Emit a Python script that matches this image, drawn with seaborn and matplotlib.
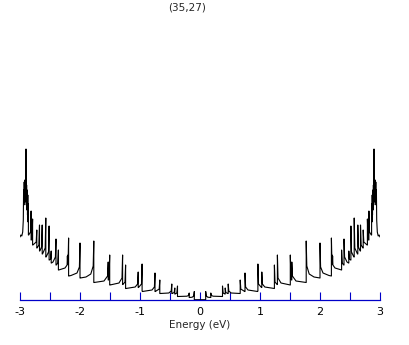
import matplotlib
matplotlib.use("Agg")
import matplotlib.pyplot as plt
import numpy as np
import pandas as pd
import seaborn as sns
from matplotlib.ticker import MultipleLocator

# ---- data (positive-energy half of the DOS; the curve is symmetric) ----
energy_pos = [
    0.0, 0.09,
    0.095, 0.095, 0.105, 0.13, 0.175,
    0.18, 0.18, 0.19, 0.22, 0.37,
    0.375, 0.375, 0.385, 0.415,
    0.42, 0.42, 0.43, 0.465,
    0.47, 0.47, 0.48, 0.52, 0.665,
    0.67, 0.67, 0.68, 0.745,
    0.75, 0.75, 0.76, 0.80, 0.96,
    0.965, 0.965, 0.975, 1.025,
    1.03, 1.03, 1.04, 1.08, 1.235,
    1.24, 1.24, 1.25, 1.285,
    1.29, 1.29, 1.30, 1.35, 1.50,
    1.505, 1.505, 1.515, 1.525,
    1.53, 1.53, 1.54, 1.60, 1.765,
    1.77, 1.77, 1.78, 1.82, 1.90, 1.995,
    2.00, 2.00, 2.01, 2.05, 2.15, 2.185,
    2.19, 2.19, 2.198, 2.20, 2.205, 2.21, 2.215, 2.25, 2.355,
    2.36, 2.36, 2.37, 2.395,
    2.40, 2.40, 2.41, 2.45, 2.475,
    2.48, 2.48, 2.49, 2.51,
    2.515, 2.515, 2.525, 2.565,
    2.57, 2.57, 2.58, 2.625,
    2.63, 2.63, 2.64, 2.67,
    2.675, 2.675, 2.685, 2.715,
    2.72, 2.72, 2.73, 2.785,
    2.79, 2.79, 2.80, 2.81,
    2.815, 2.815, 2.825, 2.855,
    2.86, 2.86, 2.865, 2.87, 2.875, 2.88, 2.885, 2.89, 2.895,
    2.90, 2.905, 2.91, 2.915, 2.92, 2.925, 2.93, 2.935, 2.94,
    2.945, 2.955, 2.97, 2.985, 3.0,
]
dos_pos = [
    0.3, 0.3,
    0.3, 8.5, 4.0, 2.8, 2.5,
    2.5, 7.0, 4.5, 3.8, 3.5,
    3.5, 14.0, 7.0, 6.0,
    6.0, 12.0, 7.5, 6.5,
    6.5, 16.0, 9.0, 7.0, 6.5,
    6.5, 20.0, 11.0, 8.5,
    8.5, 27.0, 13.0, 10.0, 8.5,
    9.0, 36.0, 16.0, 12.5,
    12.5, 28.0, 16.0, 13.0, 11.5,
    11.5, 35.0, 18.0, 15.5,
    15.5, 45.0, 22.0, 17.0, 15.0,
    15.0, 45.0, 24.0, 20.0,
    20.0, 38.0, 24.0, 19.0, 17.5,
    17.5, 59.0, 34.0, 26.0, 23.0, 22.0,
    22.0, 57.0, 33.0, 27.0, 24.5, 24.0,
    24.0, 62.0, 40.0, 45.0, 36.0, 44.0, 35.0, 32.0, 30.0,
    30.0, 50.0, 37.0, 35.0,
    35.0, 61.0, 43.0, 38.0, 37.0,
    37.0, 49.0, 41.0, 40.0,
    40.0, 74.0, 48.0, 43.0,
    43.0, 82.0, 52.0, 46.0,
    46.0, 75.0, 53.0, 49.0,
    49.0, 75.0, 55.0, 52.0,
    52.0, 70.0, 58.0, 55.0,
    55.0, 81.0, 62.0, 60.0,
    60.0, 89.0, 68.0, 65.0,
    65.0, 96.0, 78.0, 105.0, 85.0, 110.0, 90.0, 115.0, 95.0,
    151.0, 100.0, 118.0, 98.0, 120.0, 100.0, 118.0, 95.0, 110.0,
    80.0, 68.0, 64.0, 65.0, 63.0,
]
title_text = "(35,27)"
x_label = "Energy (eV)"
x_ticks = [-3, -2, -1, 0, 1, 2, 3]

# full curve (mirror of the positive half)
e_pos = np.array(energy_pos)
d_pos = np.array(dos_pos)
energy = np.concatenate([-e_pos[::-1], e_pos])
dos = np.concatenate([d_pos[::-1], d_pos])
df = pd.DataFrame({"energy": energy, "dos": dos})

sns.set_style("white")
plt.rcParams["font.family"] = ["DejaVu Sans"]
plt.rcParams["axes.unicode_minus"] = False

W, H = 409, 345
fig = plt.figure(figsize=(W / 100, H / 100), dpi=100)
ax = fig.add_axes([20 / W, 45 / H, 360 / W, 160 / H])

sns.lineplot(data=df, x="energy", y="dos", ax=ax, sort=False, estimator=None,
             color="black", linewidth=0.8)

blue = "#0000C8"
ax.set_xlim(-3, 3)
ax.set_ylim(0, 160)
for s in ["top", "left", "right"]:
    ax.spines[s].set_visible(False)
ax.spines["bottom"].set_color(blue)
ax.spines["bottom"].set_linewidth(0.9)
ax.set_yticks([])
ax.set_xticks(x_ticks)
ax.set_xticklabels([str(t) for t in x_ticks])
ax.xaxis.set_minor_locator(MultipleLocator(0.5))
ax.tick_params(axis="x", which="both", bottom=True, top=False, direction="in",
               length=6, width=0.8, color=blue, labelsize=8,
               labelcolor="black", pad=5)
ax.tick_params(axis="x", which="minor", labelbottom=False)
ax.set_xlabel(x_label, fontsize=7.5, labelpad=2)
ax.set_ylabel("")

fig.text(187 / W, 1 - 7 / H, title_text, ha="center", va="center", fontsize=7.5)

fig.savefig("out.png", dpi=100)
